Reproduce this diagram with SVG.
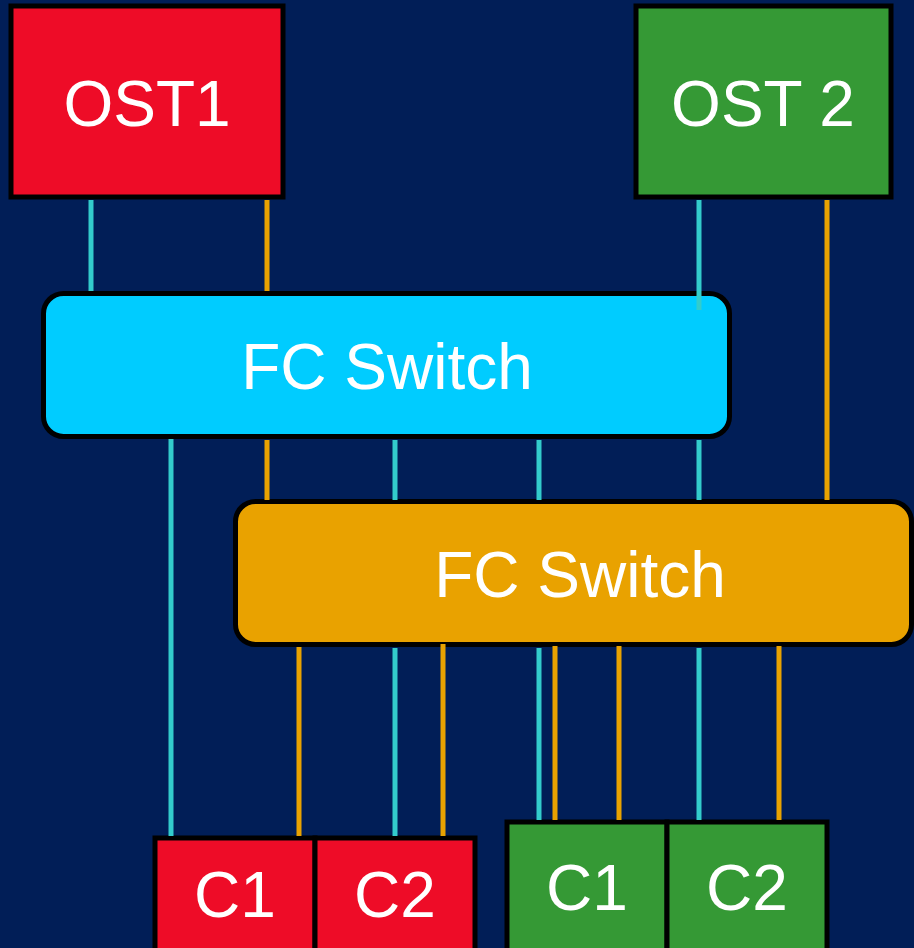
<svg xmlns="http://www.w3.org/2000/svg" width="914" height="948" viewBox="0 0 914 948">
  <style>
    .box { stroke: #000; stroke-width: 5; }
    .red { fill: #EE0C27; }
    .green { fill: #359935; }
    .sw-cyan { fill: #00CCFF; }
    .sw-orange { fill: #E9A200; }
    .label { fill: #fff; font-family: "Liberation Sans", Arial, sans-serif; font-size: 64px; text-anchor: middle; }
    .c { stroke: #33CCCC; stroke-width: 5; fill: none; }
    .o { stroke: #E9A200; stroke-width: 5; fill: none; }
  </style>
  <rect width="914" height="948" fill="#011E57"/>

  <g id="ost1">
    <rect class="box red" x="11" y="6" width="272" height="191"/>
    <text class="label" x="147" y="126">OST1</text>
  </g>
  <g id="ost2">
    <rect class="box green" x="636" y="6" width="255" height="191"/>
    <text class="label" x="763" y="126">OST 2</text>
  </g>

  <g id="fc-switch-a">
    <rect class="box sw-cyan" x="43.5" y="293.5" width="686" height="143" rx="20"/>
    <text class="label" x="387" y="389">FC Switch</text>
  </g>
  <g id="fc-switch-b">
    <rect class="box sw-orange" x="235.5" y="501.5" width="676" height="143" rx="20"/>
    <text class="label" x="580" y="597">FC Switch</text>
  </g>

  <g id="red-c1">
    <rect class="box red" x="155" y="838" width="160" height="120"/>
    <text class="label" x="235" y="917">C1</text>
  </g>
  <g id="red-c2">
    <rect class="box red" x="315" y="838" width="160" height="120"/>
    <text class="label" x="395" y="917">C2</text>
  </g>
  <g id="green-c1">
    <rect class="box green" x="507" y="822" width="160" height="130"/>
    <text class="label" x="587" y="910">C1</text>
  </g>
  <g id="green-c2">
    <rect class="box green" x="667" y="822" width="160" height="130"/>
    <text class="label" x="747" y="910">C2</text>
  </g>

  <g id="connectors">
    <!-- storage targets to switches -->
    <line class="c" x1="91" y1="200" x2="91" y2="291"/>
    <line class="o" x1="267" y1="200" x2="267" y2="291"/>
    <line class="c" x1="699" y1="200" x2="699" y2="310"/>
    <line class="o" x1="827" y1="200" x2="827" y2="500"/>
    <!-- between the two switches -->
    <line class="o" x1="267" y1="440" x2="267" y2="500"/>
    <line class="c" x1="395" y1="440" x2="395" y2="500"/>
    <line class="c" x1="539" y1="440" x2="539" y2="500"/>
    <line class="c" x1="699" y1="440" x2="699" y2="500"/>
    <line class="c" x1="171" y1="439" x2="171" y2="836"/>
    <!-- switches to red clients -->
    <line class="o" x1="299" y1="647" x2="299" y2="836"/>
    <line class="c" x1="395" y1="648" x2="395" y2="836"/>
    <line class="o" x1="443" y1="644" x2="443" y2="836"/>
    <!-- switches to green clients -->
    <line class="c" x1="539" y1="648" x2="539" y2="820"/>
    <line class="o" x1="555" y1="646" x2="555" y2="820"/>
    <line class="o" x1="619" y1="646" x2="619" y2="820"/>
    <line class="c" x1="699" y1="648" x2="699" y2="820"/>
    <line class="o" x1="779" y1="646" x2="779" y2="820"/>
  </g>
</svg>
